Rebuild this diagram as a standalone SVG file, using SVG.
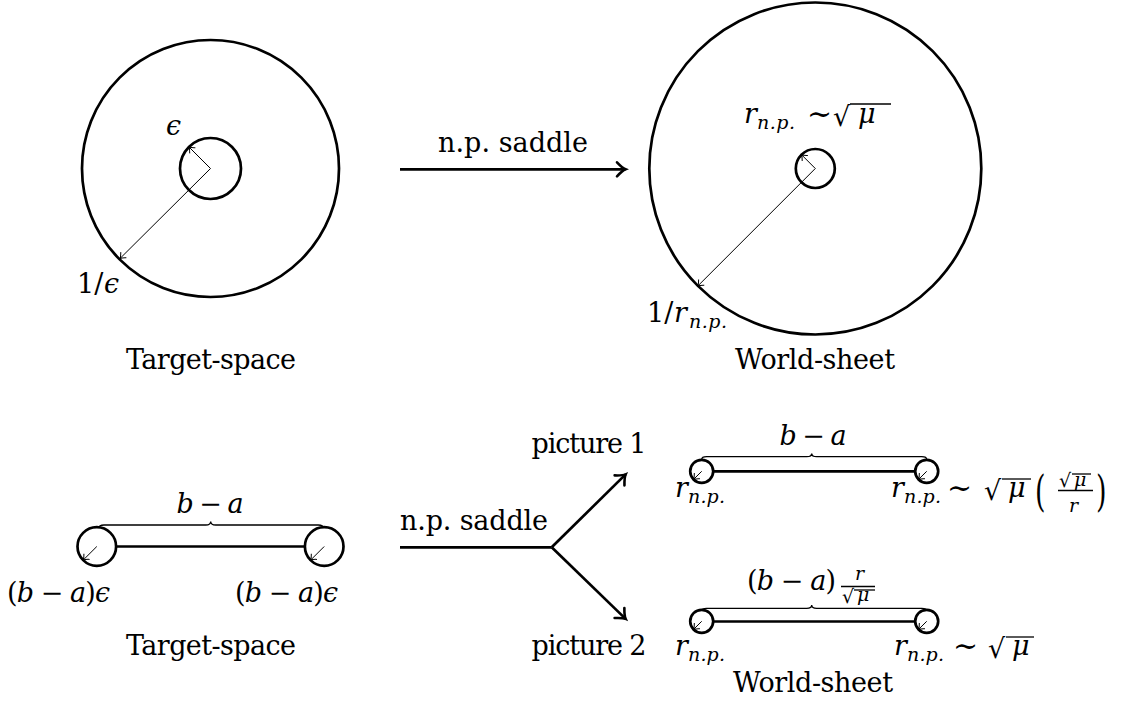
<svg xmlns="http://www.w3.org/2000/svg" width="1126" height="703" viewBox="0 0 1126 703" font-family="'DejaVu Serif',serif">
<defs>
<style>
text{font-family:'DejaVu Serif','Liberation Serif',serif;fill:#000}
.t{font-size:27px}
.i{font-style:italic}
.sub{font-size:19px}
.sim{font-size:30px}
.thick{fill:none;stroke:#000;stroke-width:2.7}
.thin{fill:none;stroke:#000;stroke-width:1}
.brace{fill:none;stroke:#000;stroke-width:1.3}
.ol{stroke:#000;stroke-width:1.3}
</style>
<marker id="ah" markerUnits="userSpaceOnUse" viewBox="-11 -9 13 18" refX="0" refY="0" markerWidth="13" markerHeight="18" orient="auto" overflow="visible"><path d="M-8.5,-7 Q-3,-1.2 0,0 Q-3,1.2 -8.5,7" fill="none" stroke="#000" stroke-width="2.6" stroke-linecap="round"/></marker>
<marker id="ahs" markerUnits="userSpaceOnUse" viewBox="-7 -5 8 10" refX="0" refY="0" markerWidth="8" markerHeight="10" orient="auto" overflow="visible"><path d="M-5,-4 Q-2,-0.8 0,0 Q-2,0.8 -5,4" fill="none" stroke="#000" stroke-width="1"/></marker>
</defs>
<rect width="1126" height="703" fill="#fff"/>

<g id="target-space-top">
<circle class="thick" cx="210.5" cy="168.5" r="128.5"/>
<circle class="thick" cx="210.5" cy="168.5" r="30.5"/>
<line class="thin" x1="210.5" y1="168.5" x2="189" y2="147" marker-end="url(#ahs)"/>
<line class="thin" x1="210.5" y1="168.5" x2="120" y2="258.5" marker-end="url(#ahs)"/>
<text class="t i" x="166" y="135">ϵ</text>
<text class="t" x="77" y="293">1/</text>
<text class="t i" x="104" y="293">ϵ</text>
<text class="t" x="211" y="369" text-anchor="middle" textLength="170">Target-space</text>
</g>

<g id="world-sheet-top">
<circle class="thick" cx="815.3" cy="168.5" r="166"/>
<circle class="thick" cx="815.3" cy="168.5" r="19.5"/>
<line class="thin" x1="815.3" y1="168.5" x2="801.5" y2="154.7" marker-end="url(#ahs)"/>
<line class="thin" x1="815.3" y1="168.5" x2="697.9" y2="285.9" marker-end="url(#ahs)"/>
<text class="t i" x="744" y="123">r</text>
<text class="t i sub" x="757" y="129" textLength="38">n.p.</text>
<text class="t sim" x="807" y="124">∼</text>
<text class="t" x="833" y="126">√</text>
<line class="ol" x1="850" y1="104" x2="891" y2="104"/>
<text class="t i" x="858" y="123">μ</text>
<text class="t" x="647" y="322">1/</text>
<text class="t i" x="674" y="322">r</text>
<text class="t i sub" x="689" y="328" textLength="38">n.p.</text>
<text class="t" x="815" y="369" text-anchor="middle" textLength="160">World-sheet</text>
</g>

<g id="target-space-bottom">
<circle class="thick" cx="96.8" cy="546.5" r="19.3"/>
<circle class="thick" cx="324.2" cy="546.5" r="19.3"/>
<line class="thick" x1="116.1" y1="546.5" x2="304.9" y2="546.5"/>
<line class="thin" x1="96.8" y1="546.5" x2="83.2" y2="560.1" marker-end="url(#ahs)"/>
<line class="thin" x1="324.2" y1="546.5" x2="310.6" y2="560.1" marker-end="url(#ahs)"/>
<path class="brace" d="M99,528 Q99,525 104,525 L205.7,525 Q210.7,525 210.7,521.5 Q210.7,525 215.7,525 L318.3,525 Q323.3,525 323.3,528"/>
<text class="t" x="210" y="513" text-anchor="middle" textLength="67"><tspan class="i">b</tspan> − <tspan class="i">a</tspan></text>
<text class="t" x="7" y="602" textLength="103">(<tspan class="i">b</tspan> − <tspan class="i">a</tspan>)<tspan class="i">ϵ</tspan></text>
<text class="t" x="235" y="602" textLength="103">(<tspan class="i">b</tspan> − <tspan class="i">a</tspan>)<tspan class="i">ϵ</tspan></text>
<text class="t" x="211" y="655" text-anchor="middle" textLength="170">Target-space</text>
</g>

<g id="picture-1">
<circle class="thick" cx="701.7" cy="471.3" r="11.5"/>
<circle class="thick" cx="926.7" cy="471.3" r="11.5"/>
<line class="thick" x1="713.2" y1="471.3" x2="915.2" y2="471.3"/>
<line class="thin" x1="701.7" y1="471.3" x2="693.6" y2="479.4" marker-end="url(#ahs)"/>
<line class="thin" x1="926.7" y1="471.3" x2="918.6" y2="479.4" marker-end="url(#ahs)"/>
<path class="brace" d="M701.7,459.5 Q701.7,456.7 706.7,456.7 L806.7,456.7 Q811.7,456.7 811.7,453.5 Q811.7,456.7 816.7,456.7 L921.7,456.7 Q926.7,456.7 926.7,459.5"/>
<text class="t" x="813" y="445" text-anchor="middle" textLength="67"><tspan class="i">b</tspan> − <tspan class="i">a</tspan></text>
<text class="t i" x="675" y="497">r</text>
<text class="t i sub" x="688" y="503" textLength="37">n.p.</text>
<text class="t i" x="891" y="497">r</text>
<text class="t i sub" x="904" y="503" textLength="37">n.p.</text>
<text class="t sim" x="947" y="498">∼</text>
<text class="t" x="984" y="500">√</text>
<line class="ol" x1="1002" y1="479" x2="1031" y2="479"/>
<text class="t i" x="1008" y="497">μ</text>
<text class="t" transform="translate(1035,506) scale(1,1.6)">(</text>
<text class="t sub" x="1059" y="487">√</text>
<line class="ol" x1="1072" y1="474" x2="1091" y2="474"/>
<text class="t i sub" x="1074" y="486">μ</text>
<line class="ol" x1="1058" y1="490.5" x2="1093" y2="490.5"/>
<text class="t i sub" x="1069" y="512">r</text>
<text class="t" transform="translate(1096,506) scale(1,1.6)">)</text>
<text class="t" x="589" y="453" text-anchor="middle" textLength="115">picture 1</text>
</g>

<g id="picture-2">
<circle class="thick" cx="701.7" cy="621.3" r="11.5"/>
<circle class="thick" cx="926.7" cy="621.3" r="11.5"/>
<line class="thick" x1="713.2" y1="621.5" x2="915.2" y2="621.5"/>
<line class="thin" x1="701.7" y1="621.3" x2="693.6" y2="629.4" marker-end="url(#ahs)"/>
<line class="thin" x1="926.7" y1="621.3" x2="918.6" y2="629.4" marker-end="url(#ahs)"/>
<path class="brace" d="M701.7,611 Q701.7,608.3 706.7,608.3 L806.7,608.3 Q811.7,608.3 811.7,605 Q811.7,608.3 816.7,608.3 L921.7,608.3 Q926.7,608.3 926.7,611"/>
<text class="t" x="747" y="590" textLength="89">(<tspan class="i">b</tspan> − <tspan class="i">a</tspan>)</text>
<text class="t i sub" x="855" y="580">r</text>
<line class="ol" x1="841" y1="586.5" x2="875" y2="586.5"/>
<text class="t sub" x="842" y="603">√</text>
<line class="ol" x1="854" y1="590" x2="875" y2="590"/>
<text class="t i sub" x="857" y="601">μ</text>
<text class="t i" x="675" y="655">r</text>
<text class="t i sub" x="688" y="661" textLength="37">n.p.</text>
<text class="t i" x="894" y="655">r</text>
<text class="t i sub" x="907" y="661" textLength="37">n.p.</text>
<text class="t sim" x="953" y="656">∼</text>
<text class="t" x="988" y="658">√</text>
<line class="ol" x1="1006" y1="637" x2="1034" y2="637"/>
<text class="t i" x="1012" y="655">μ</text>
<text class="t" x="589" y="655" text-anchor="middle" textLength="115">picture 2</text>
<text class="t" x="813" y="692" text-anchor="middle" textLength="160">World-sheet</text>
</g>

<g id="connectors">
<line class="thick" x1="400" y1="169.3" x2="625.5" y2="169.3" marker-end="url(#ah)"/>
<text class="t" x="513" y="152" text-anchor="middle" textLength="150">n.p. saddle</text>
<line class="thick" x1="400" y1="547.3" x2="551.7" y2="547.3"/>
<line class="thick" x1="551.7" y1="547.3" x2="625.6" y2="474.4" marker-end="url(#ah)"/>
<line class="thick" x1="551.7" y1="547.3" x2="625.6" y2="618.9" marker-end="url(#ah)"/>
<text class="t" x="474" y="530" text-anchor="middle" textLength="148">n.p. saddle</text>
</g>
</svg>
